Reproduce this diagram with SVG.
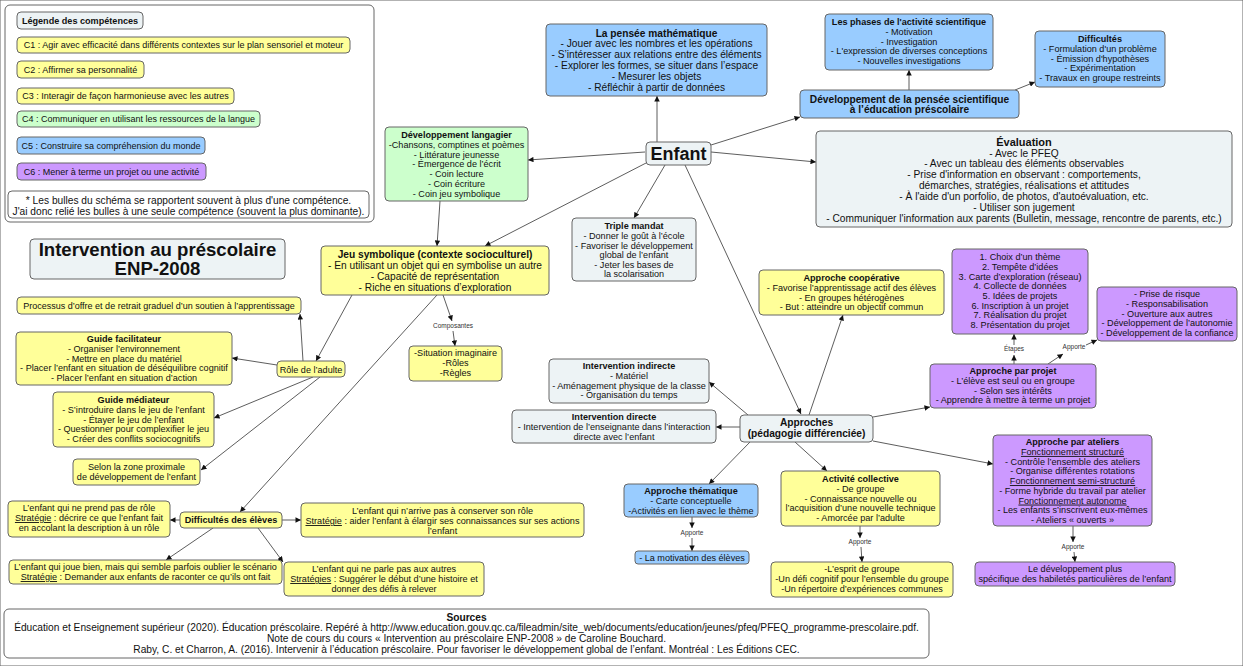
<svg xmlns="http://www.w3.org/2000/svg" width="1243" height="666" viewBox="0 0 1243 666">
<defs>
<marker id="ah" viewBox="0 0 10 10" refX="10" refY="5" markerWidth="6" markerHeight="5.5" markerUnits="userSpaceOnUse" orient="auto"><path d="M0,0 L10,5 L0,10 z" fill="#111"/></marker>
<style>
rect{stroke:#666;stroke-width:1}
.y{fill:#ffff99}.g{fill:#ccffcc}.b{fill:#99ccff}.p{fill:#cc99ff}.w{fill:#edf3f5}.wh{fill:#ffffff}
text{font-family:"Liberation Sans",Arial,sans-serif;fill:#111;text-anchor:middle}
.m{font-size:10.2px}.s{font-size:9.1px}.l{font-size:9px}
.bd{font-weight:bold}
.lb{font-size:6.5px;fill:#333}
#connectors line{stroke:#333;stroke-width:0.8;fill:none;marker-end:url(#ah)}
</style>
</defs>
<rect width="1243" height="666" fill="#fff" stroke="none"/>

<g id="connectors">
<line x1="657" y1="142" x2="657" y2="96"/>
<line x1="645" y1="152" x2="528" y2="160"/>
<line x1="648" y1="162" x2="485" y2="246"/>
<line x1="665" y1="165" x2="634" y2="218"/>
<line x1="685" y1="165" x2="801" y2="414"/>
<line x1="711" y1="145" x2="800" y2="117"/>
<line x1="711" y1="152" x2="816" y2="162"/>
<line x1="909" y1="90" x2="909" y2="70"/>
<line x1="1015" y1="90" x2="1035" y2="82"/>
<line x1="440" y1="201" x2="437" y2="246"/>
<line x1="352" y1="295" x2="316" y2="361"/>
<line x1="437" y1="295" x2="240" y2="512"/>
<line x1="443" y1="295" x2="452" y2="321"/>
<line x1="453" y1="331" x2="455" y2="346"/>
<line x1="303" y1="361" x2="300" y2="314"/>
<line x1="277" y1="365" x2="232" y2="358"/>
<line x1="313" y1="377" x2="214" y2="418"/>
<line x1="320" y1="377" x2="201" y2="470"/>
<line x1="180" y1="520" x2="170" y2="520"/>
<line x1="282" y1="520" x2="301" y2="520"/>
<line x1="213" y1="528" x2="166" y2="560"/>
<line x1="258" y1="528" x2="283" y2="562"/>
<line x1="748" y1="415" x2="709" y2="382"/>
<line x1="740" y1="427" x2="716" y2="427"/>
<line x1="809" y1="415" x2="843" y2="315"/>
<line x1="873" y1="417" x2="930" y2="407"/>
<line x1="873" y1="441" x2="993" y2="464"/>
<line x1="750" y1="442" x2="709" y2="484"/>
<line x1="795" y1="442" x2="827" y2="471"/>
<line x1="692" y1="517" x2="692" y2="528"/>
<line x1="692" y1="538" x2="692" y2="551"/>
<line x1="860" y1="526" x2="860" y2="538"/>
<line x1="861" y1="547" x2="862" y2="562"/>
<line x1="1073" y1="526" x2="1073" y2="542"/>
<line x1="1074" y1="552" x2="1075" y2="562"/>
<line x1="1014" y1="364" x2="1014" y2="355"/>
<line x1="1014" y1="345" x2="1014" y2="334"/>
<line x1="1048" y1="364" x2="1063" y2="354"/>
<line x1="1086" y1="345" x2="1097" y2="340"/>
</g>

<g id="legend">
<rect x="5" y="5" width="369" height="217" rx="5" class="wh" stroke="#777"/>
<g id="legend-title"><rect x="17" y="12" width="126" height="17" rx="4" class="w"/><text x="80" y="24" class="s bd">Légende des compétences</text></g>
<g id="c1"><rect x="17" y="37" width="333" height="16" rx="4" class="y"/><text x="183.5" y="48.2" class="l">C1 : Agir avec efficacité dans différents contextes sur le plan sensoriel et moteur</text></g>
<g id="c2"><rect x="17" y="61" width="127" height="17" rx="4" class="y"/><text x="80.5" y="72.8" class="l">C2 : Affirmer sa personnalité</text></g>
<g id="c3"><rect x="17" y="88" width="217" height="16" rx="4" class="y"/><text x="125.5" y="99.2" class="l">C3 : Interagir de façon harmonieuse avec les autres</text></g>
<g id="c4"><rect x="17" y="111" width="243" height="16" rx="4" class="g"/><text x="138.5" y="122.2" class="l">C4 : Communiquer en utilisant les ressources de la langue</text></g>
<g id="c5"><rect x="17" y="137" width="188" height="17" rx="4" class="b"/><text x="111" y="148.8" class="l">C5 : Construire sa compréhension du monde</text></g>
<g id="c6"><rect x="17" y="163" width="189" height="17" rx="4" class="p"/><text x="111.5" y="174.8" class="l">C6 : Mener à terme un projet ou une activité</text></g>
<g id="legend-note"><rect x="8" y="191" width="361" height="27" rx="4" class="wh"/><text x="188.5" class="m"><tspan x="188.5" y="203.5">* Les bulles du schéma se rapportent souvent à plus d'une compétence.</tspan><tspan x="188.5" y="215.2">J'ai donc relié les bulles à une seule compétence (souvent la plus dominante).</tspan></text></g>
</g>

<g id="title"><rect x="30" y="239" width="255" height="40" rx="4" class="w"/><text class="bd" font-size="18.6"><tspan x="157.5" y="256.3">Intervention au préscolaire</tspan><tspan x="157.5" y="275.3">ENP-2008</tspan></text></g>

<g id="enfant"><rect x="646" y="142" width="65" height="23" rx="4" class="w" stroke="#444"/><text x="678.5" y="160" class="bd" font-size="18">Enfant</text></g>

<g id="pensee-math"><rect x="546" y="24" width="221" height="72" rx="4" class="b"/><text class="m"><tspan x="656.5" y="36.6" class="bd">La pensée mathématique</tspan><tspan x="656.5" dy="10.8">- Jouer avec les nombres et les opérations</tspan><tspan x="656.5" dy="10.8">- S’intéresser aux relations entre des éléments</tspan><tspan x="656.5" dy="10.8">- Explorer les formes, se situer dans l’espace</tspan><tspan x="656.5" dy="10.8">- Mesurer les objets</tspan><tspan x="656.5" dy="10.8">- Réfléchir à partir de données</tspan></text></g>

<g id="phases"><rect x="825" y="14" width="168" height="56" rx="4" class="b"/><text class="s"><tspan x="909" y="25.2" class="bd">Les phases de l'activité scientifique</tspan><tspan x="909" dy="9.75">- Motivation</tspan><tspan x="909" dy="9.75">- Investigation</tspan><tspan x="909" dy="9.75">- L'expression de diverses conceptions</tspan><tspan x="909" dy="9.75">- Nouvelles investigations</tspan></text></g>

<g id="difficultes"><rect x="1035" y="31" width="130" height="56" rx="4" class="b"/><text class="s"><tspan x="1100" y="42.2" class="bd">Difficultés</tspan><tspan x="1100" dy="9.7">- Formulation d'un problème</tspan><tspan x="1100" dy="9.7">- Émission d'hypothèses</tspan><tspan x="1100" dy="9.7">- Expérimentation</tspan><tspan x="1100" dy="9.7">- Travaux en groupe restreints</tspan></text></g>

<g id="pensee-sci"><rect x="800" y="90" width="219" height="28" rx="4" class="b"/><text class="m bd"><tspan x="909.5" y="102.6">Développement de la pensée scientifique</tspan><tspan x="909.5" y="113.2">à l’éducation préscolaire</tspan></text></g>

<g id="evaluation"><rect x="816" y="131" width="416" height="96" rx="4" class="w"/><text class="m"><tspan x="1024" y="145.6" class="bd" font-size="11">Évaluation</tspan><tspan x="1024" dy="10.9">- Avec le PFEQ</tspan><tspan x="1024" dy="10.9">- Avec un tableau des éléments observables</tspan><tspan x="1024" dy="10.9">- Prise d'information en observant : comportements,</tspan><tspan x="1024" dy="10.9">démarches, stratégies, réalisations et attitudes</tspan><tspan x="1024" dy="10.9">- À l'aide d'un porfolio, de photos, d'autoévaluation, etc.</tspan><tspan x="1024" dy="10.9">- Utiliser son jugement</tspan><tspan x="1024" dy="10.9">- Communiquer l'information aux parents (Bulletin, message, rencontre de parents, etc.)</tspan></text></g>

<g id="langagier"><rect x="385" y="127" width="143" height="74" rx="4" class="g"/><text class="s"><tspan x="456.5" y="138.3" class="bd">Développement langagier</tspan><tspan x="456.5" dy="9.7">-Chansons, comptines et poèmes</tspan><tspan x="456.5" dy="9.7">- Littérature jeunesse</tspan><tspan x="456.5" dy="9.7">- Émergence de l’écrit</tspan><tspan x="456.5" dy="9.7">- Coin lecture</tspan><tspan x="456.5" dy="9.7">- Coin écriture</tspan><tspan x="456.5" dy="9.7">- Coin jeu symbolique</tspan></text></g>

<g id="triple-mandat"><rect x="572" y="218" width="124" height="63" rx="4" class="w"/><text class="s"><tspan x="634" y="229.3" class="bd">Triple mandat</tspan><tspan x="634" dy="9.6">- Donner le goût à l’école</tspan><tspan x="634" dy="9.6">- Favoriser le développement</tspan><tspan x="634" dy="9.6">global de l’enfant</tspan><tspan x="634" dy="9.6">- Jeter les bases de</tspan><tspan x="634" dy="9.6">la scolarisation</tspan></text></g>

<g id="jeu-symbolique"><rect x="321" y="246" width="228" height="49" rx="4" class="y"/><text class="m"><tspan x="435" y="257.6" class="bd">Jeu symbolique (contexte socioculturel)</tspan><tspan x="435" dy="11">- En utilisant un objet qui en symbolise un autre</tspan><tspan x="435" dy="11">- Capacité de représentation</tspan><tspan x="435" dy="11">- Riche en situations d’exploration</tspan></text></g>

<g id="lbl-composantes"><text x="453" y="328.3" class="lb">Composantes</text></g>

<g id="situation"><rect x="409" y="346" width="93" height="35" rx="4" class="y"/><text class="s"><tspan x="455.5" y="356.3">-Situation imaginaire</tspan><tspan x="455.5" dy="9.6">-Rôles</tspan><tspan x="455.5" dy="9.6">-Règles</tspan></text></g>

<g id="role-adulte"><rect x="277" y="361" width="68" height="16" rx="4" class="y"/><text x="311" y="372.6" class="s">Rôle de l’adulte</text></g>

<g id="processus"><rect x="17" y="297" width="284" height="17" rx="4" class="y"/><text x="159" y="309" class="l">Processus d’offre et de retrait graduel d’un soutien à l’apprentissage</text></g>

<g id="guide-facilitateur"><rect x="16" y="332" width="216" height="53" rx="4" class="y"/><text class="s"><tspan x="124" y="342.2" class="bd">Guide facilitateur</tspan><tspan x="124" dy="9.7">- Organiser l’environnement</tspan><tspan x="124" dy="9.7">- Mettre en place du matériel</tspan><tspan x="124" dy="9.7">- Placer l’enfant en situation de déséquilibre cognitif</tspan><tspan x="124" dy="9.7">- Placer l’enfant en situation d’action</tspan></text></g>

<g id="guide-mediateur"><rect x="53" y="392" width="161" height="55" rx="4" class="y"/><text class="s"><tspan x="133.5" y="403.2" class="bd">Guide médiateur</tspan><tspan x="133.5" dy="9.65">- S’introduire dans le jeu de l’enfant</tspan><tspan x="133.5" dy="9.65">- Étayer le jeu de l’enfant</tspan><tspan x="133.5" dy="9.65">- Questionner pour complexifier le jeu</tspan><tspan x="133.5" dy="9.65">- Créer des conflits sociocognitifs</tspan></text></g>

<g id="zone-proximale"><rect x="73" y="459" width="127" height="26" rx="4" class="y"/><text class="s"><tspan x="136.5" y="470.2">Selon la zone proximale</tspan><tspan x="136.5" dy="9.8">de développement de l’enfant</tspan></text></g>

<g id="difficultes-eleves"><rect x="180" y="512" width="102" height="16" rx="4" class="y"/><text x="231" y="523.3" class="s bd">Difficultés des élèves</text></g>

<g id="ne-prend-pas"><rect x="8" y="501" width="162" height="36" rx="4" class="y"/><text class="s"><tspan x="89" y="511.2">L’enfant qui ne prend pas de rôle</tspan><tspan x="89" dy="9.8"><tspan text-decoration="underline">Stratégie</tspan> : décrire ce que l’enfant fait</tspan><tspan x="89" dy="9.8">en accolant la description à un rôle</tspan></text></g>

<g id="joue-bien"><rect x="9" y="560" width="273" height="24" rx="4" class="y"/><text class="s"><tspan x="145.5" y="570.2">L’enfant qui joue bien, mais qui semble parfois oublier le scénario</tspan><tspan x="145.5" dy="9.8"><tspan text-decoration="underline">Stratégie</tspan> : Demander aux enfants de raconter ce qu’ils ont fait</tspan></text></g>

<g id="narrive-pas"><rect x="301" y="503" width="283" height="34" rx="4" class="y"/><text class="s"><tspan x="442.5" y="514.2">L’enfant qui n’arrive pas à conserver son rôle</tspan><tspan x="442.5" dy="9.8"><tspan text-decoration="underline">Stratégie</tspan> : aider l’enfant à élargir ses connaissances sur ses actions</tspan><tspan x="442.5" dy="9.8">l’enfant</tspan></text></g>

<g id="ne-parle-pas"><rect x="284" y="562" width="200" height="34" rx="4" class="y"/><text class="s"><tspan x="384" y="572.2">L’enfant qui ne parle pas aux autres</tspan><tspan x="384" dy="9.8"><tspan text-decoration="underline">Stratégies</tspan> : Suggérer le début d’une histoire et</tspan><tspan x="384" dy="9.8">donner des défis à relever</tspan></text></g>

<g id="sources"><rect x="4" y="609" width="925" height="49" rx="5" class="wh"/><text class="m"><tspan x="466.5" y="620.6" class="bd">Sources</tspan><tspan x="466.5" dy="10.7">Éducation et Enseignement supérieur (2020). Éducation préscolaire. Repéré à http://www.education.gouv.qc.ca/fileadmin/site_web/documents/education/jeunes/pfeq/PFEQ_programme-prescolaire.pdf.</tspan><tspan x="466.5" dy="10.7">Note de cours du cours « Intervention au préscolaire ENP-2008 » de Caroline Bouchard.</tspan><tspan x="466.5" dy="10.7">Raby, C. et Charron, A. (2016). Intervenir à l’éducation préscolaire. Pour favoriser le développement global de l’enfant. Montréal : Les Éditions CEC.</tspan></text></g>

<g id="intervention-indirecte"><rect x="549" y="359" width="160" height="44" rx="4" class="w"/><text class="s"><tspan x="629" y="369.2" class="bd">Intervention indirecte</tspan><tspan x="629" dy="9.7">- Matériel</tspan><tspan x="629" dy="9.7">- Aménagement physique de la classe</tspan><tspan x="629" dy="9.7">- Organisation du temps</tspan></text></g>

<g id="intervention-directe"><rect x="512" y="410" width="204" height="33" rx="4" class="w"/><text class="s"><tspan x="614" y="420.2" class="bd">Intervention directe</tspan><tspan x="614" dy="9.8">- Intervention de l’enseignante dans l’interaction</tspan><tspan x="614" dy="9.8">directe avec l’enfant</tspan></text></g>

<g id="approches"><rect x="740" y="415" width="133" height="27" rx="4" class="w"/><text class="m bd"><tspan x="806.5" y="425.8">Approches</tspan><tspan x="806.5" dy="10.9">(pédagogie différenciée)</tspan></text></g>

<g id="cooperative"><rect x="759" y="270" width="185" height="45" rx="4" class="y"/><text class="s"><tspan x="851.5" y="281.2" class="bd">Approche coopérative</tspan><tspan x="851.5" dy="9.7">- Favorise l’apprentissage actif des élèves</tspan><tspan x="851.5" dy="9.7">- En groupes hétérogènes</tspan><tspan x="851.5" dy="9.7">- But : atteindre un objectif commun</tspan></text></g>

<g id="etapes"><rect x="952" y="249" width="136" height="85" rx="4" class="p"/><text class="s"><tspan x="1020" y="260.2">1. Choix d’un thème</tspan><tspan x="1020" dy="9.67">2. Tempête d’idées</tspan><tspan x="1020" dy="9.67">3. Carte d’exploration (réseau)</tspan><tspan x="1020" dy="9.67">4. Collecte de données</tspan><tspan x="1020" dy="9.67">5. Idées de projets</tspan><tspan x="1020" dy="9.67">6. Inscription à un projet</tspan><tspan x="1020" dy="9.67">7. Réalisation du projet</tspan><tspan x="1020" dy="9.67">8. Présentation du projet</tspan></text></g>

<g id="apports-projet"><rect x="1097" y="287" width="140" height="54" rx="4" class="p"/><text class="s"><tspan x="1167" y="297.2">- Prise de risque</tspan><tspan x="1167" dy="9.75">- Responsabilisation</tspan><tspan x="1167" dy="9.75">- Ouverture aux autres</tspan><tspan x="1167" dy="9.75">- Développement de l’autonomie</tspan><tspan x="1167" dy="9.75">- Développement de la confiance</tspan></text></g>

<g id="lbl-etapes"><text x="1014" y="351.3" class="lb">Étapes</text></g>
<g id="lbl-apporte-projet"><text x="1074" y="349.3" class="lb">Apporte</text></g>

<g id="projet"><rect x="930" y="364" width="166" height="44" rx="4" class="p"/><text class="s"><tspan x="1013" y="374.2" class="bd">Approche par projet</tspan><tspan x="1013" dy="9.7">- L’élève est seul ou en groupe</tspan><tspan x="1013" dy="9.7">- Selon ses intérêts</tspan><tspan x="1013" dy="9.7">- Apprendre à mettre à terme un projet</tspan></text></g>

<g id="ateliers"><rect x="993" y="435" width="159" height="91" rx="4" class="p"/><text class="s"><tspan x="1072.5" y="445.2" class="bd">Approche par ateliers</tspan><tspan x="1072.5" dy="9.73" text-decoration="underline">Fonctionnement structuré</tspan><tspan x="1072.5" dy="9.73">- Contrôle l’ensemble des ateliers</tspan><tspan x="1072.5" dy="9.73">- Organise différentes rotations</tspan><tspan x="1072.5" dy="9.73" text-decoration="underline">Fonctionnement semi-structuré</tspan><tspan x="1072.5" dy="9.73">- Forme hybride du travail par atelier</tspan><tspan x="1072.5" dy="9.73" text-decoration="underline">Fonctionnement autonome</tspan><tspan x="1072.5" dy="9.73">- Les enfants s’inscrivent eux-mêmes</tspan><tspan x="1072.5" dy="9.73">- Ateliers « ouverts »</tspan></text></g>

<g id="lbl-apporte-ateliers"><text x="1073" y="549.3" class="lb">Apporte</text></g>

<g id="habiletes"><rect x="975" y="562" width="200" height="24" rx="4" class="p"/><text class="s"><tspan x="1075" y="572.2">Le développement plus</tspan><tspan x="1075" dy="9.4">spécifique des habiletés particulières de l’enfant</tspan></text></g>

<g id="thematique"><rect x="624" y="484" width="134" height="33" rx="4" class="b"/><text class="s"><tspan x="691" y="494.2" class="bd">Approche thématique</tspan><tspan x="691" dy="9.7">- Carte conceptuelle</tspan><tspan x="691" dy="9.7">-Activités en lien avec le thème</tspan></text></g>

<g id="lbl-apporte-thematique"><text x="692" y="535.3" class="lb">Apporte</text></g>

<g id="motivation"><rect x="635" y="551" width="114" height="13" rx="3" class="b"/><text x="692" y="561" class="s">- La motivation des élèves</text></g>

<g id="collective"><rect x="781" y="471" width="159" height="55" rx="4" class="y"/><text class="s"><tspan x="860.5" y="482.2" class="bd">Activité collective</tspan><tspan x="860.5" dy="9.75">- De groupe</tspan><tspan x="860.5" dy="9.75">-  Connaissance nouvelle ou</tspan><tspan x="860.5" dy="9.75">l’acquisition d’une nouvelle technique</tspan><tspan x="860.5" dy="9.75">- Amorcée par l’adulte</tspan></text></g>

<g id="lbl-apporte-collective"><text x="860" y="544.3" class="lb">Apporte</text></g>

<g id="esprit"><rect x="771" y="562" width="182" height="35" rx="4" class="y"/><text class="s"><tspan x="862" y="572.2">-L’esprit de groupe</tspan><tspan x="862" dy="9.8">-Un défi cognitif pour l’ensemble du groupe</tspan><tspan x="862" dy="9.8">-Un répertoire d’expériences communes</tspan></text></g>
</svg>
